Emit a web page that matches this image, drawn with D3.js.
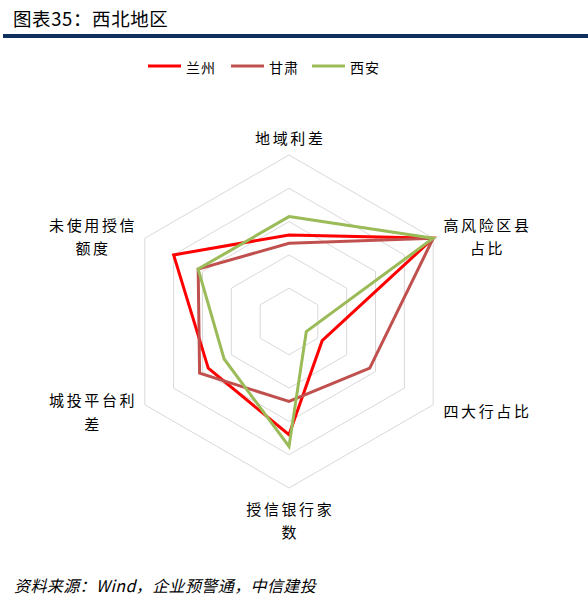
<!DOCTYPE html>
<html>
<head>
<meta charset="utf-8">
<script src="https://cdn.jsdelivr.net/npm/d3@7"></script>
<style>
html,body{margin:0;padding:0;background:#fff;}
svg{display:block;font-family:"Noto Sans CJK SC","Noto Sans",sans-serif;}
</style>
</head>
<body>
<svg id="chart" width="588" height="607"></svg>
<script>
// ---- data ----
const axes = ["地域利差", "高风险区县占比", "四大行占比", "授信银行家数", "城投平台利差", "未使用授信额度"];
const axisLabelLines = [["地域利差"], ["高风险区县", "占比"], ["四大行占比"], ["授信银行家", "数"], ["城投平台利", "差"], ["未使用授信", "额度"]];
const seriesNames = ["兰州", "甘肃", "西安"];
const lanzhou = [0.52, 1.00, 0.23, 0.68, 0.56, 0.80];
const gansu   = [0.47, 1.00, 0.56, 0.48, 0.62, 0.63];
const xian    = [0.63, 1.00, 0.12, 0.75, 0.45, 0.63];
const ringTicks = [0.2, 0.4, 0.6, 0.8, 1.0];
const titleText = "图表35：西北地区";
const sourceText = "资料来源：Wind，企业预警通，中信建投";

// ---- layout ----
const svg = d3.select("#chart");
const cx = 289, cy = 321.5, R = 166.5;
const colors = ["#FF0000", "#C0504D", "#9BBB59"];
const series = [lanzhou, gansu, xian];

const r = d3.scaleLinear().domain([0, 1]).range([0, R]);
const angle = d3.scaleLinear().domain([0, axes.length]).range([0, 2 * Math.PI]);
const pt = (i, v) => [cx + r(v) * Math.sin(angle(i)), cy - r(v) * Math.cos(angle(i))];

// title
svg.append("text").attr("x", 13).attr("y", 18).attr("dominant-baseline", "central")
  .attr("font-size", 18.5).attr("letter-spacing", 0.6).attr("fill", "#000").text(titleText);
svg.append("rect").attr("x", 3).attr("y", 34).attr("width", 585).attr("height", 4).attr("fill", "#0f2f5c");

// legend
const legendX = [148, 231, 312];
seriesNames.forEach((n, i) => {
  const g = svg.append("g");
  g.append("line").attr("x1", legendX[i]).attr("x2", legendX[i] + 33).attr("y1", 66).attr("y2", 66)
    .attr("stroke", colors[i]).attr("stroke-width", 3);
  g.append("text").attr("x", legendX[i] + 38).attr("y", 67).attr("dominant-baseline", "central")
    .attr("font-size", 14).attr("letter-spacing", 1).attr("fill", "#000").text(n);
});

// grid rings
const lineGen = d3.line();
ringTicks.forEach(t => {
  const pts = axes.map((a, i) => pt(i, t));
  svg.append("path").attr("d", lineGen(pts) + "Z").attr("fill", "none")
    .attr("stroke", "#d9d9d9").attr("stroke-width", 1);
});

// series
series.forEach((s, k) => {
  const pts = s.map((v, i) => pt(i, v));
  svg.append("path").attr("d", lineGen(pts) + "Z").attr("fill", "none")
    .attr("stroke", colors[k]).attr("stroke-width", 3).attr("stroke-linejoin", "miter");
});

// axis labels
const labelOffsets = [[0, -18], [53, -14], [53, 6], [0, 20], [-53, -5], [-53, -14]];
const lineH = 23.5;
axisLabelLines.forEach((lines, i) => {
  const [vx, vy] = pt(i, 1);
  const t = svg.append("text").attr("font-size", 15).attr("letter-spacing", 2.6)
    .attr("text-anchor", "middle").attr("fill", "#000");
  lines.forEach((ln, j) => {
    t.append("tspan").attr("x", vx + labelOffsets[i][0] + 1.3)
      .attr("y", vy + labelOffsets[i][1] + j * lineH)
      .attr("dominant-baseline", "central").text(ln);
  });
});

// source
svg.append("text").attr("x", 14).attr("y", 585).attr("dominant-baseline", "central")
  .attr("font-size", 16).attr("letter-spacing", 0.4).attr("font-style", "italic").attr("fill", "#000").text(sourceText);
</script>
</body>
</html>
